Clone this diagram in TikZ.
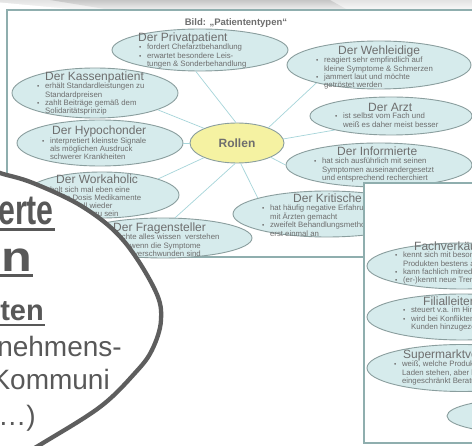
\documentclass[tikz,border=0pt]{standalone}
\usepackage{fontspec}
\setmainfont{Liberation Sans}
\usetikzlibrary{shapes.geometric}
\definecolor{ellfill}{HTML}{D6EBEC}
\definecolor{ellbd}{HTML}{8A9E9E}
\definecolor{txtg}{HTML}{6E6E6E}
\definecolor{conncol}{HTML}{A6D5DA}
\definecolor{panelbd}{HTML}{8FAEAE}
\definecolor{rolfill}{HTML}{F5F2A2}
\definecolor{bigtxt}{HTML}{585858}
\definecolor{arcg}{HTML}{5E5E5E}
\newcommand{\bul}{{\fontsize{6.5}{6.5}\selectfont\textbullet}}
\newcommand{\blist}[1]{\begin{tabular}[t]{@{}l@{\hspace{5.6pt}}l@{}}#1\end{tabular}}
\tikzset{
  pell/.style={ellipse, draw=ellbd, fill=ellfill, line width=0.9pt, inner sep=0pt},
  ttl/.style={anchor=base west, font=\fontsize{12}{12}\selectfont, text=txtg, inner sep=0pt},
  blt/.style={anchor=base west, font=\fontsize{7.8}{8}\selectfont, text=txtg, inner sep=0pt},
  conn/.style={draw=conncol, line width=0.7pt},
  panel/.style={draw=panelbd, line width=1.2pt},
  bigb/.style={anchor=base east, font=\fontsize{42}{42}\selectfont\bfseries, text=bigtxt, inner sep=0pt},
  bigm/.style={anchor=base east, font=\fontsize{29}{29}\selectfont\bfseries, text=bigtxt, inner sep=0pt},
  bigr/.style={anchor=base east, font=\fontsize{28}{28}\selectfont, text=bigtxt, inner sep=0pt},
  uline/.style={draw=bigtxt, line width=2.8pt}
}
\begin{document}
\begin{tikzpicture}[x=1pt,y=-1pt]
\useasboundingbox (0,0) rectangle (472,446);
\clip (0,0) rectangle (472,446);
\fill[white] (0,0) rectangle (472,446);
% top banner shadow
\shade[top color=gray!22, bottom color=gray!6] (0,0) rectangle (472,9);
\shade[top color=gray!45, bottom color=gray!14] (50,0) -- (330,0) -- (346,9) -- (105,9) -- cycle;
\fill[white] (0,2.5) -- (0,9) -- (70,9) -- cycle;
% panel 1
\draw[panel, fill=white] (7,10) rectangle (490,257);
\node[anchor=base, font=\fontsize{9.5}{9.5}\selectfont\bfseries, text=txtg, inner sep=0pt] (titel) at (236,26) {Bild: „Patiententypen“};

% ellipses panel 1
\node[pell, minimum width=176, minimum height=42] (priv) at (200,50) {};
\node[ttl] (privT) at (138,41.5) {Der Privatpatient};
\node[blt] (privB) at (139,50) {\blist{\bul & fordert Chefarztbehandlung\\ \bul & erwartet besondere Leis-\\ & tungen \& Sonderbehandlung}};

\node[pell, minimum width=184, minimum height=48] (wehl) at (379,65) {};
\node[ttl] (wehlT) at (338,54.5) {Der Wehleidige};
\node[blt] (wehlB) at (316,63) {\blist{\bul & reagiert sehr empfindlich auf\\ & kleine Symptome \& Schmerzen\\ \bul & jammert laut und möchte\\ & getröstet werden}};

\node[pell, minimum width=166, minimum height=50] (kassen) at (95,93) {};
\node[ttl] (kassenT) at (45,80.5) {Der Kassenpatient};
\node[blt] (kassenB) at (37,89) {\blist{\bul & erhält Standardleistungen zu\\ & Standardpreisen\\ \bul & zahlt Beiträge gemäß dem\\ & Solidaritätsprinzip}};

\node[pell, minimum width=162, minimum height=38] (arzt) at (391,116) {};
\node[ttl] (arztT) at (368,111.5) {Der Arzt};
\node[blt] (arztB) at (335,119) {\blist{\bul & ist selbst vom Fach und\\ & weiß es daher meist besser}};

\node[pell, minimum width=166, minimum height=46] (hypo) at (100,143) {};
\node[ttl] (hypoT) at (52,135) {Der Hypochonder};
\node[blt] (hypoB) at (42,143.5) {\blist{\bul & interpretiert kleinste Signale\\ & als möglichen Ausdruck\\ & schwerer Krankheiten}};

\node[pell, minimum width=94, minimum height=40, fill=rolfill, font=\fontsize{12}{12}\selectfont\bfseries, text=txtg] (rollen) at (237,143) {Rollen};

\node[pell, minimum width=186, minimum height=44] (info) at (379,165) {};
\node[ttl] (infoT) at (337,155.5) {Der Informierte};
\node[blt] (infoB) at (314,164) {\blist{\bul & hat sich ausführlich mit seinen\\ & Symptomen auseinandergesetzt\\ & und entsprechend recherchiert}};

\node[pell, minimum width=154, minimum height=46] (work) at (102,195) {};
\node[ttl] (workT) at (56,184) {Der Workaholic};
\node[blt] (workB) at (42,192.5) {\blist{\bul & holt sich mal eben eine\\ & große Dosis Medikamente\\ & um schnell wieder\\ & einsatzfähig zu sein}};

\node[pell, minimum width=188, minimum height=46] (krit) at (327,214) {};
\node[ttl] (kritT) at (293,202.5) {Der Kritische};
\node[blt] (kritB) at (262,211) {\blist{\bul & hat häufig negative Erfahrungen\\ & mit Ärzten gemacht\\ \bul & zweifelt Behandlungsmethoden\\ & erst einmal an}};

\node[pell, minimum width=178, minimum height=40] (frag) at (163,238) {};
\node[ttl] (fragT) at (113,231.5) {Der Fragensteller};
\node[blt] (fragB) at (103,240) {\blist{\bul & möchte alles wissen\ \ verstehen\\ & auch wenn die Symptome\\ & längst verschwunden sind}};

% connectors
\draw[conn] (rollen.93) -- (priv.259);
\draw[conn] (rollen.26) -- (wehl.196);
\draw[conn] (rollen.156) -- (kassen.345);
\draw[conn] (rollen.180) -- (hypo.0);
\draw[conn] (rollen.204) -- (work.16);
\draw[conn] (rollen.265) -- (frag.59);
\draw[conn] (rollen.280) -- (krit.167);
\draw[conn] (rollen.5) -- (arzt.194);
\draw[conn] (rollen.337) -- (info.180);

% panel 2
\draw[panel, fill=white] (364,183) rectangle (490,443);
\node[pell, minimum width=190, minimum height=46] (fach) at (462,266) {};
\node[ttl] (fachT) at (414,250.5) {Fachverkäufer};
\node[blt] (fachB) at (395,258) {\blist{\bul & kennt sich mit besonderen\\ & Produkten bestens aus\\ \bul & kann fachlich mitreden\\ \bul & (er-)kennt neue Trends}};

\node[pell, minimum width=190, minimum height=46] (filial) at (462,317) {};
\node[ttl] (filialT) at (423,305.5) {Filialleiter};
\node[blt] (filialB) at (403,313) {\blist{\bul & steuert v.a. im Hintergrund\\ \bul & wird bei Konflikten mit\\ & Kunden hinzugezogen}};

\node[pell, minimum width=190, minimum height=47] (super) at (462,368) {};
\node[ttl] (superT) at (403,359) {Supermarktverkäufer};
\node[blt] (superB) at (394,367) {\blist{\bul & weiß, welche Produkte im\\ & Laden stehen, aber hat nur\\ & eingeschränkt Beratungskompetenz}};

\node[pell, minimum width=160, minimum height=35] (vierte) at (527,416) {};

% big round callout
\fill[white] plot[smooth, tension=0.6] coordinates {(-12,167) (0,173) (33,183) (83,207) (123,240) (155,290) (161,320) (152,350) (135,373) (100,407) (43,443) (22,455)} -- (-20,460) -- (-20,160) -- cycle;
\draw[arcg, line width=4.3pt] plot[smooth, tension=0.6] coordinates {(-12,167) (0,173) (33,183) (83,207) (123,240) (155,290) (161,320) (152,350) (135,373) (100,407) (43,443) (22,455)};

\node[bigb] (h1) at (54,225) {\scalebox{0.72}[1]{erte}};
\draw[uline] (-2,229.5) -- (55,229.5);
\node[bigb] (h2) at (32,272) {\scalebox{1.2}[1]{n}};
\draw[uline] (-2,275.5) -- (33,275.5);
\node[bigm] (h3) at (44,321) {ten};
\draw[bigtxt, line width=2.2pt] (-2,325) -- (45,325);
\node[bigr] (b1) at (122,357) {nehmens-};
\node[bigr] (b2) at (110,390) {Kommuni};
\node[bigr] (b3) at (36,426) {…)};
\end{tikzpicture}
\end{document}
